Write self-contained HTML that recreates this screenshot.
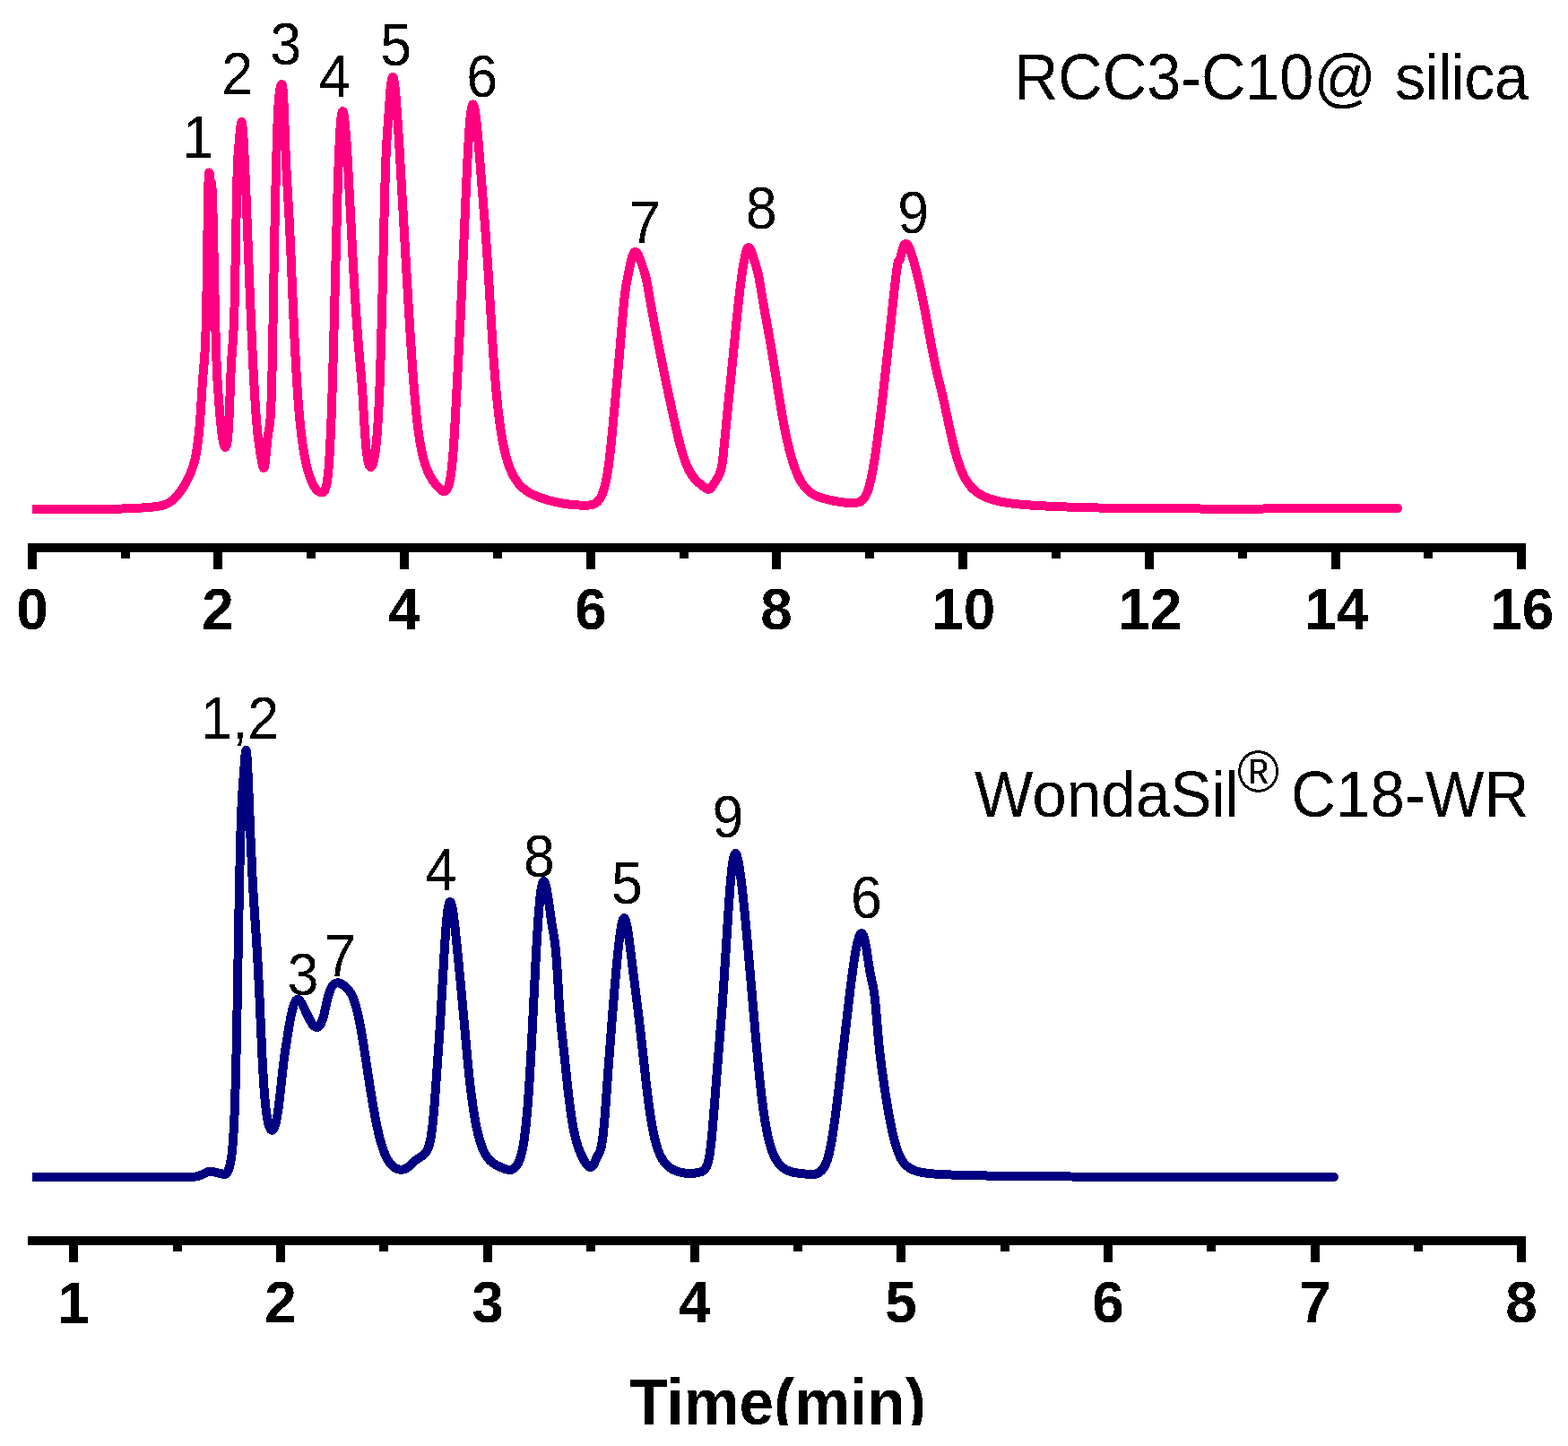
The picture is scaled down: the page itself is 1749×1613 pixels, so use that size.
<!DOCTYPE html>
<html lang="en"><head><meta charset="utf-8"><title>Chromatograms: RCC3-C10@ silica vs WondaSil C18-WR</title>
<style>
html,body{margin:0;padding:0;background:#fff;}
body{width:1749px;height:1613px;overflow:hidden;}
svg{display:block;}
text{font-family:"Liberation Sans",Arial,Helvetica,sans-serif;fill:#000;}
.tick{font-weight:bold;font-size:64px;text-anchor:middle;}
.pk{font-size:64px;text-anchor:middle;}
.ttl{font-weight:bold;font-size:70px;text-anchor:middle;}
.curve{fill:none;stroke-width:10;stroke-linejoin:round;stroke-linecap:butt;shape-rendering:crispEdges;}
</style></head><body>
<svg xmlns="http://www.w3.org/2000/svg" width="1749" height="1613" viewBox="0 0 1749 1613">
<rect width="1749" height="1613" fill="#fff"/>
<defs><clipPath id="cb"><rect x="0" y="0" width="1749" height="1590"/></clipPath><filter id="hard" x="0" y="0" width="100%" height="100%" filterUnits="userSpaceOnUse" color-interpolation-filters="sRGB"><feComponentTransfer><feFuncA type="discrete" tableValues="0 1"/></feComponentTransfer></filter></defs>
<g id="top-chart">
<path class="curve" stroke="#ff0080" d="M36.00,567.91 45.75,568.04 56.50,568.07 101.50,567.90 130.00,568.11 140.00,567.08 146.25,566.98 152.25,566.79 157.75,566.53 163.00,566.18 171.50,565.40 174.50,565.02 177.25,564.58 179.75,564.07 182.00,563.48 184.25,562.73 186.25,561.91 188.25,560.88 190.00,559.79 191.75,558.51 193.50,557.03 195.25,555.35 197.25,553.18 199.25,550.75 201.25,548.10 203.25,545.23 205.00,542.51 206.75,539.57 208.50,536.38 210.75,531.82 212.75,527.25 214.25,523.38 215.75,518.87 217.00,514.34 218.00,510.01 219.00,504.85 220.00,498.61 220.75,493.04 221.50,486.61 222.25,479.11 222.75,473.37 223.75,459.75 226.00,424.63 226.50,418.22 228.00,400.96 228.50,393.48 229.00,383.63 229.50,370.17 229.75,361.60 230.25,339.43 230.50,325.35 232.00,224.32 232.50,203.42 232.75,197.39 233.00,193.89 233.25,192.50 233.50,192.76 233.75,194.16 234.50,200.36 234.75,201.59 235.00,202.30 235.50,203.23 235.75,203.97 236.00,205.25 236.25,207.31 236.50,210.41 237.00,220.60 237.75,246.67 239.75,339.86 240.50,370.76 241.00,388.26 241.50,403.00 242.00,414.90 242.50,424.28 243.75,442.58 245.25,461.68 246.50,475.08 247.50,483.76 248.00,487.38 248.75,491.89 249.25,494.29 249.75,496.21 250.25,497.62 250.50,498.14 250.75,498.53 251.00,498.78 251.25,498.90 251.50,498.87 251.75,498.70 252.00,498.38 252.50,497.22 253.00,495.29 253.50,492.45 253.75,490.64 254.50,483.24 255.00,476.28 255.75,461.68 257.25,421.93 257.75,410.81 258.50,397.88 260.00,377.82 260.75,364.47 261.25,351.50 261.50,343.21 262.00,323.02 264.00,218.16 264.50,197.68 265.00,183.03 265.25,177.56 265.75,169.41 267.75,146.87 268.25,141.96 268.75,138.23 269.00,136.97 269.25,136.21 269.50,136.00 269.75,136.40 270.00,137.40 270.25,138.96 270.50,141.04 271.00,146.63 271.75,158.03 272.75,177.25 274.50,217.40 278.50,320.44 280.50,368.88 281.75,396.29 282.75,416.36 283.75,434.67 284.75,450.99 285.75,465.15 286.75,477.13 287.75,486.99 288.75,494.91 290.25,504.48 292.00,514.87 292.75,518.74 293.25,520.63 293.50,521.31 293.75,521.77 294.00,522.00 294.25,521.97 294.50,521.65 294.75,521.02 295.00,520.09 295.25,518.88 295.75,515.67 296.50,509.20 298.00,493.40 298.50,488.84 299.25,483.62 300.50,476.26 301.00,472.44 301.50,467.23 301.75,463.87 302.25,455.03 302.75,442.29 303.00,434.17 303.50,414.39 304.25,376.68 305.75,290.95 306.75,240.48 308.00,186.33 309.00,152.19 309.50,138.50 310.00,127.04 310.50,117.72 311.25,107.38 311.75,102.60 312.00,100.76 312.50,97.97 312.75,96.96 313.25,95.51 313.75,94.56 314.00,94.21 314.25,94.00 314.50,94.03 314.75,94.39 315.00,95.18 315.25,96.50 315.75,101.04 316.25,108.68 317.00,126.10 318.50,167.47 319.25,184.57 320.00,198.99 322.00,232.99 323.00,251.59 324.25,278.68 327.00,343.96 328.25,372.07 329.75,402.33 331.25,428.05 332.25,442.64 333.50,458.40 334.50,469.30 335.75,481.14 337.00,491.27 338.50,501.57 340.00,510.18 340.75,513.96 341.75,518.51 343.25,524.44 345.00,530.23 346.75,535.02 347.75,537.39 348.75,539.52 349.75,541.42 350.75,543.11 351.75,544.58 352.75,545.85 353.75,546.92 354.75,547.80 355.75,548.49 356.75,548.99 357.75,549.29 358.75,549.40 359.50,549.33 360.25,549.08 361.00,548.58 361.50,548.06 362.25,546.93 362.75,545.88 363.25,544.54 363.75,542.85 364.50,539.42 365.25,534.68 366.00,528.35 366.75,520.10 367.25,513.34 368.25,496.35 369.25,474.17 370.25,446.77 371.00,423.22 372.00,388.27 376.00,233.56 377.00,200.61 378.00,173.05 379.00,151.60 379.50,143.26 380.00,136.49 380.50,131.26 381.00,127.51 381.50,125.15 381.75,124.46 382.00,124.08 382.25,124.00 382.50,124.20 382.75,124.66 383.25,126.35 383.75,129.03 384.25,132.63 384.75,137.10 385.25,142.38 386.50,158.64 387.50,174.23 388.50,191.51 393.75,291.18 395.25,317.77 396.50,338.26 398.00,360.65 399.50,380.63 400.75,395.48 402.75,417.12 403.75,429.65 404.50,440.80 406.50,474.48 407.75,492.33 408.50,500.72 409.25,507.24 410.00,512.14 410.75,515.74 411.50,518.29 412.00,519.49 412.50,520.32 413.00,520.82 413.50,521.00 414.00,520.88 414.50,520.45 415.00,519.73 415.25,519.26 415.75,518.07 416.50,515.68 417.00,513.66 418.00,508.43 419.00,501.37 420.00,492.07 420.75,483.28 421.50,472.60 422.25,459.63 423.00,443.92 423.75,425.10 425.00,386.39 426.25,338.89 429.00,221.97 429.75,195.73 430.50,175.32 431.00,164.62 431.75,151.88 433.25,131.59 434.75,109.20 435.25,102.59 435.75,97.10 436.50,90.96 436.75,89.46 437.25,87.29 437.50,86.60 437.75,86.17 438.00,86.00 438.25,86.08 438.50,86.40 438.75,86.97 439.00,87.76 439.50,90.03 440.25,94.99 440.75,99.27 441.50,106.95 442.75,122.64 444.00,141.05 445.50,165.37 454.25,317.56 456.25,350.95 458.25,382.53 460.50,415.30 462.25,438.07 464.00,457.69 464.75,465.08 465.75,473.96 466.75,481.79 467.75,488.68 469.00,496.17 470.25,502.62 471.50,508.20 472.75,513.05 474.25,518.05 475.75,522.33 477.50,526.58 479.25,530.17 481.25,533.68 483.25,536.70 484.75,538.72 486.25,540.58 488.00,542.60 489.75,544.50 491.00,545.76 492.00,546.64 493.00,547.35 493.75,547.75 494.50,548.00 495.00,548.09 495.50,548.09 496.00,548.02 496.50,547.84 497.00,547.57 497.50,547.19 498.00,546.67 498.75,545.63 499.50,544.20 500.25,542.28 501.00,539.75 501.75,536.44 502.25,533.76 503.25,527.05 504.00,520.71 504.50,515.79 505.50,504.12 506.75,485.97 508.00,464.23 513.50,357.12 515.75,308.25 520.25,203.49 521.25,182.33 522.25,163.31 523.50,143.63 524.25,134.37 524.75,129.28 525.25,125.07 526.00,120.36 526.25,119.21 526.75,117.53 527.00,116.99 527.25,116.65 527.50,116.50 527.75,116.54 528.00,116.76 528.25,117.17 528.75,118.49 529.50,121.70 530.25,126.24 531.00,131.96 531.75,138.69 532.50,146.28 533.50,157.46 534.75,172.64 540.75,248.43 542.75,275.24 544.75,305.35 549.25,380.00 550.50,398.76 551.75,415.73 553.50,436.45 555.25,453.99 557.00,468.73 558.00,476.04 559.00,482.63 560.25,489.99 561.75,497.70 563.25,504.37 565.00,511.06 566.75,516.77 568.50,521.66 570.50,526.44 572.50,530.50 573.50,532.30 574.75,534.37 577.00,537.63 578.25,539.23 579.75,540.97 581.00,542.30 582.50,543.75 584.00,545.07 585.50,546.27 587.25,547.54 589.00,548.70 590.75,549.75 592.75,550.84 596.75,552.75 599.50,553.89 602.75,555.10 606.25,556.30 610.00,557.46 613.50,558.45 617.25,559.41 621.00,560.26 624.75,561.02 628.50,561.68 632.50,562.28 636.25,562.75 640.00,563.12 643.75,563.40 647.50,563.58 651.00,563.65 654.50,563.63 658.00,563.43 659.25,563.25 660.50,562.99 661.75,562.61 662.75,562.21 663.75,561.69 664.75,561.05 665.75,560.26 666.75,559.31 667.75,558.17 668.50,557.18 669.50,555.65 670.25,554.33 671.00,552.83 671.75,551.14 673.00,547.80 674.25,543.70 675.50,538.66 676.50,533.82 677.50,528.16 678.50,521.62 679.50,514.15 680.50,505.75 681.50,496.49 682.75,483.90 689.25,414.67 690.75,397.87 694.00,359.20 695.25,345.14 696.50,332.75 697.50,324.59 698.50,317.93 699.50,312.39 703.25,294.00 704.25,289.46 705.25,285.88 705.75,284.48 706.25,283.32 706.75,282.40 707.25,281.70 707.75,281.23 708.00,281.07 708.50,280.91 709.00,280.94 709.50,281.15 710.00,281.53 710.50,282.07 711.00,282.76 711.75,284.03 713.00,286.72 714.00,289.26 715.00,292.04 718.25,301.74 719.50,305.90 720.50,309.84 721.25,313.29 722.25,318.46 727.25,346.98 731.75,370.95 737.50,399.89 744.50,433.82 750.50,461.84 755.25,482.83 757.00,490.05 758.75,496.82 760.50,503.07 762.25,508.75 763.75,513.17 765.25,517.16 766.75,520.74 768.50,524.40 770.00,527.12 771.75,529.89 773.50,532.29 775.50,534.69 776.75,536.03 778.25,537.50 781.25,540.13 785.00,542.98 787.25,544.53 788.50,545.29 789.25,545.61 789.75,545.75 790.50,545.79 791.00,545.70 791.50,545.51 792.25,545.03 792.75,544.60 793.50,543.81 794.50,542.51 795.75,540.58 798.25,536.33 800.75,532.30 802.25,529.47 803.25,527.00 804.00,524.57 804.75,521.43 805.50,517.30 806.25,511.81 807.00,504.89 811.25,461.11 815.50,419.19 821.75,356.16 823.75,337.24 825.75,319.87 827.00,310.05 828.25,301.18 829.50,293.36 830.75,286.78 831.50,283.50 832.00,281.62 832.50,279.99 833.00,278.62 833.50,277.53 834.00,276.73 834.50,276.21 835.00,276.00 835.25,276.01 835.75,276.25 836.00,276.49 836.50,277.16 837.25,278.60 838.25,281.15 843.50,297.32 844.75,301.83 846.00,307.17 847.50,314.97 852.00,341.76 857.75,373.66 860.00,386.50 862.50,401.57 867.75,434.93 870.25,450.36 872.75,464.88 875.00,476.95 876.75,485.60 878.50,493.59 880.25,500.90 882.00,507.55 883.75,513.57 885.75,519.71 887.50,524.49 889.50,529.31 891.75,534.00 893.00,536.31 894.25,538.41 895.50,540.33 896.75,542.08 898.00,543.67 899.25,545.11 900.50,546.41 902.00,547.81 903.25,548.84 904.75,549.95 906.25,550.94 908.00,551.95 909.75,552.84 911.75,553.74 914.50,554.79 917.50,555.75 920.75,556.64 924.75,557.60 929.50,558.62 934.00,559.46 938.25,560.12 942.25,560.61 945.75,560.90 949.00,561.06 952.00,561.09 954.25,560.96 956.00,560.71 957.75,560.25 959.25,559.64 960.75,558.77 962.00,557.80 963.00,556.81 964.00,555.58 964.75,554.48 965.75,552.73 966.50,551.18 967.25,549.43 968.00,547.44 968.75,545.20 969.50,542.70 971.00,536.84 972.50,529.82 974.25,520.27 976.25,507.88 978.25,494.03 980.50,476.96 982.75,458.60 985.25,437.08 988.25,410.20 997.25,326.49 999.25,309.21 1000.75,297.44 1001.25,294.38 1001.75,292.30 1002.00,291.68 1002.25,291.26 1003.25,290.28 1003.50,289.87 1004.00,288.58 1004.50,286.80 1006.25,279.46 1006.75,277.71 1007.50,275.54 1008.25,273.90 1009.00,272.76 1009.75,272.11 1010.00,271.99 1010.50,271.90 1011.00,272.00 1011.75,272.47 1012.25,273.00 1013.00,274.06 1013.50,274.95 1014.25,276.51 1015.75,280.35 1017.50,285.73 1019.75,293.46 1021.75,300.94 1023.75,309.01 1025.25,315.43 1027.00,323.31 1030.25,339.02 1033.00,353.29 1039.75,389.76 1041.75,399.93 1043.75,409.47 1046.00,419.32 1050.50,437.71 1052.50,446.24 1054.50,455.31 1059.25,477.63 1062.00,489.87 1064.75,501.02 1066.25,506.55 1067.50,510.85 1068.75,514.86 1070.25,519.30 1071.50,522.69 1073.00,526.39 1074.25,529.20 1075.75,532.24 1077.25,534.95 1078.75,537.37 1080.50,539.87 1082.25,542.08 1084.00,544.04 1086.00,546.01 1088.00,547.75 1090.25,549.45 1092.50,550.95 1095.00,552.40 1098.00,553.90 1101.50,555.39 1105.25,556.73 1109.25,557.93 1113.50,559.00 1118.00,559.94 1123.00,560.81 1128.25,561.56 1133.75,562.20 1140.00,562.80 1147.00,563.35 1155.25,563.88 1165.25,564.45 1176.00,564.97 1198.75,565.83 1223.00,566.47 1250.25,566.93 1284.25,567.26 1324.50,567.48 1361.50,567.56 1403.00,567.53 1559.00,567.09"/>
<circle cx="1559.00" cy="567.09" r="5.0" fill="#ff0080"/>
<g fill="#000" shape-rendering="crispEdges">
<rect x="31.00" y="606.00" width="1671.00" height="10"/>
<rect x="31.00" y="606.00" width="10" height="29.00"/>
<rect x="238.00" y="606.00" width="10" height="29.00"/>
<rect x="446.00" y="606.00" width="10" height="29.00"/>
<rect x="654.00" y="606.00" width="10" height="29.00"/>
<rect x="861.00" y="606.00" width="10" height="29.00"/>
<rect x="1069.00" y="606.00" width="10" height="29.00"/>
<rect x="1277.00" y="606.00" width="10" height="29.00"/>
<rect x="1485.00" y="606.00" width="10" height="29.00"/>
<rect x="1692.00" y="606.00" width="10" height="29.00"/>
<rect x="135.00" y="606.00" width="10" height="17.00"/>
<rect x="342.00" y="606.00" width="10" height="17.00"/>
<rect x="550.00" y="606.00" width="10" height="17.00"/>
<rect x="758.00" y="606.00" width="10" height="17.00"/>
<rect x="965.00" y="606.00" width="10" height="17.00"/>
<rect x="1173.00" y="606.00" width="10" height="17.00"/>
<rect x="1381.00" y="606.00" width="10" height="17.00"/>
<rect x="1588.00" y="606.00" width="10" height="17.00"/>
</g>
<g filter="url(#hard)">
<text class="tick" transform="translate(36.00 702) scale(1 1.012)">0</text>
<text class="tick" transform="translate(243.00 702) scale(1 1.012)">2</text>
<text class="tick" transform="translate(451.00 702) scale(1 1.012)">4</text>
<text class="tick" transform="translate(659.00 702) scale(1 1.012)">6</text>
<text class="tick" transform="translate(866.00 702) scale(1 1.012)">8</text>
<text class="tick" transform="translate(1074.80 702) scale(1 1.012)">10</text>
<text class="tick" transform="translate(1282.80 702) scale(1 1.012)">12</text>
<text class="tick" transform="translate(1490.80 702) scale(1 1.012)">14</text>
<text class="tick" transform="translate(1697.80 702) scale(1 1.012)">16</text>
<text class="pk" transform="translate(221 176) scale(0.98 1.045)">1</text>
<text class="pk" transform="translate(264.8 105) scale(0.98 1.045)">2</text>
<text class="pk" transform="translate(318.6 72.4) scale(0.98 1.045)">3</text>
<text class="pk" transform="translate(373.3 107.5) scale(0.98 1.045)">4</text>
<text class="pk" transform="translate(441.7 73.0) scale(0.98 1.045)">5</text>
<text class="pk" transform="translate(537.7 108.3) scale(0.98 1.045)">6</text>
<text class="pk" transform="translate(719.5 271) scale(0.98 1.045)">7</text>
<text class="pk" transform="translate(849.3 254.5) scale(0.98 1.045)">8</text>
<text class="pk" transform="translate(1018.8 259.5) scale(0.98 1.045)">9</text>
<text transform="translate(0 111) scale(1 1.045)" font-size="68.4"><tspan x="1131">RCC3-C10@ </tspan><tspan x="1556" letter-spacing="-0.6">silica</tspan></text>
</g>
</g>
<g id="bottom-chart">
<path class="curve" stroke="#000080" d="M36.00,1313.27 139.50,1313.27 181.25,1313.20 192.75,1313.25 205.00,1313.42 209.50,1313.37 212.75,1313.19 215.75,1312.87 218.50,1312.42 221.00,1311.83 223.00,1311.23 225.00,1310.48 230.25,1307.99 231.75,1307.35 233.25,1306.86 234.75,1306.58 236.00,1306.57 237.00,1306.72 240.75,1307.83 246.00,1308.98 249.00,1309.85 249.75,1309.98 250.50,1309.98 251.00,1309.87 251.50,1309.66 252.00,1309.33 252.50,1308.89 253.50,1307.65 254.25,1306.36 255.00,1304.70 255.50,1303.35 256.25,1300.87 256.75,1298.83 257.25,1296.42 257.75,1293.57 258.25,1290.17 258.75,1286.11 259.50,1278.47 260.25,1268.45 261.00,1255.28 261.50,1244.27 262.00,1231.12 262.50,1215.60 263.50,1176.70 264.50,1127.42 266.25,1027.89 267.00,988.71 267.75,955.02 268.50,927.59 269.00,912.76 269.50,900.47 270.00,890.35 270.50,881.97 273.25,845.00 273.75,839.99 274.00,838.29 274.25,837.25 274.50,837.00 274.75,837.61 275.00,839.04 275.25,841.25 275.75,847.70 276.25,856.44 277.25,878.66 279.50,934.62 281.25,972.50 282.00,986.80 283.00,1004.08 286.25,1052.20 287.75,1077.38 289.25,1107.52 292.25,1174.50 293.25,1193.65 294.25,1210.00 295.00,1220.35 296.00,1231.64 297.00,1240.35 298.00,1247.02 299.00,1252.06 299.50,1254.06 300.25,1256.50 300.75,1257.79 301.50,1259.25 302.25,1260.20 302.50,1260.40 303.00,1260.65 303.50,1260.69 304.00,1260.53 304.75,1259.89 305.50,1258.78 306.25,1257.16 307.00,1255.01 307.75,1252.27 308.25,1250.09 309.00,1246.26 310.25,1238.43 311.50,1228.90 312.75,1217.98 315.25,1194.50 316.50,1183.99 317.75,1174.93 319.75,1161.72 322.50,1144.67 323.75,1137.69 324.75,1132.59 325.75,1128.01 326.75,1124.04 327.75,1120.76 328.75,1118.22 329.25,1117.23 330.00,1116.08 330.50,1115.52 331.25,1114.99 332.00,1114.80 332.75,1114.92 333.50,1115.32 334.25,1115.97 335.00,1116.85 335.75,1117.91 337.25,1120.49 339.00,1123.98 343.00,1132.60 344.75,1136.20 346.50,1139.45 348.00,1141.85 349.00,1143.19 349.75,1144.05 350.75,1144.98 351.50,1145.49 352.25,1145.83 353.00,1145.99 353.75,1145.96 354.50,1145.72 355.25,1145.27 356.00,1144.60 356.75,1143.68 357.25,1142.94 358.00,1141.59 358.50,1140.54 359.75,1137.35 360.75,1134.14 361.75,1130.31 364.25,1118.82 365.75,1112.69 366.50,1110.06 367.50,1106.96 368.25,1104.95 369.25,1102.66 370.00,1101.22 371.00,1099.64 372.00,1098.43 373.00,1097.54 374.00,1096.93 375.25,1096.50 376.50,1096.36 377.75,1096.45 379.00,1096.76 380.50,1097.37 382.00,1098.22 383.50,1099.28 385.25,1100.74 387.25,1102.64 388.75,1104.30 390.00,1105.95 391.00,1107.49 392.00,1109.26 393.00,1111.28 394.00,1113.60 395.00,1116.22 395.75,1118.42 397.50,1124.31 399.00,1130.27 400.25,1135.89 401.75,1143.43 403.25,1151.78 406.00,1168.65 411.75,1206.32 414.25,1222.09 417.00,1238.18 419.50,1251.36 421.00,1258.53 422.50,1265.11 423.75,1270.12 425.25,1275.54 426.75,1280.34 428.25,1284.54 429.75,1288.20 431.25,1291.36 432.25,1293.21 433.25,1294.88 434.25,1296.38 435.25,1297.72 436.25,1298.92 437.25,1299.98 438.25,1300.92 439.50,1301.93 440.50,1302.62 441.75,1303.34 443.00,1303.90 444.25,1304.32 445.50,1304.61 446.75,1304.76 448.00,1304.78 449.00,1304.70 450.50,1304.41 452.00,1303.91 453.25,1303.29 454.75,1302.32 456.75,1300.69 461.00,1296.62 463.00,1294.87 466.00,1292.61 470.75,1289.51 472.00,1288.62 473.50,1287.32 474.75,1285.88 475.50,1284.81 476.25,1283.52 477.00,1281.99 477.50,1280.79 478.25,1278.69 478.75,1277.05 479.75,1273.05 480.75,1267.83 481.50,1262.91 482.50,1254.90 483.25,1247.75 484.25,1236.71 485.25,1224.13 489.75,1160.89 491.75,1129.12 495.75,1060.23 496.75,1044.83 497.50,1034.62 498.25,1025.89 498.75,1020.95 499.25,1016.72 499.75,1013.20 500.25,1010.40 500.50,1009.26 501.00,1007.51 501.50,1006.43 501.75,1006.13 502.00,1006.00 502.25,1006.02 502.50,1006.20 502.75,1006.52 503.00,1006.99 503.50,1008.33 504.00,1010.20 504.75,1013.88 505.50,1018.51 506.25,1023.92 508.00,1038.86 510.75,1065.57 513.50,1093.92 521.75,1184.42 523.50,1201.77 525.00,1215.07 527.00,1230.56 528.00,1237.40 529.00,1243.68 530.00,1249.44 531.00,1254.71 532.00,1259.51 533.25,1264.90 534.75,1270.58 536.25,1275.48 538.00,1280.34 539.75,1284.40 541.50,1287.78 543.25,1290.57 544.25,1291.94 545.25,1293.15 546.25,1294.24 547.50,1295.44 549.00,1296.70 550.50,1297.79 552.25,1298.90 554.25,1300.00 557.00,1301.31 560.75,1302.91 563.00,1303.78 565.00,1304.40 566.50,1304.71 567.75,1304.84 569.00,1304.84 570.25,1304.67 571.50,1304.32 572.50,1303.87 573.50,1303.26 574.50,1302.44 575.50,1301.38 576.50,1300.05 577.50,1298.41 578.50,1296.41 579.50,1293.99 580.25,1291.86 581.00,1289.42 581.75,1286.61 582.50,1283.39 583.25,1279.70 584.50,1272.32 585.75,1263.14 587.00,1251.84 588.25,1238.17 589.25,1225.36 590.25,1210.87 591.25,1194.74 593.25,1158.36 596.75,1088.06 598.00,1064.08 599.25,1042.39 600.50,1023.63 601.25,1013.98 602.00,1005.62 602.75,998.58 603.50,992.89 604.25,988.52 605.00,985.46 605.25,984.72 605.75,983.64 606.00,983.30 606.25,983.09 606.50,983.00 606.75,983.03 607.00,983.19 607.25,983.46 607.75,984.32 608.25,985.61 608.75,987.28 609.25,989.30 610.25,994.27 611.75,1003.57 615.25,1028.49 616.25,1034.80 618.00,1044.77 618.75,1049.83 619.25,1053.81 620.25,1063.82 621.00,1073.49 621.75,1085.17 623.75,1118.80 624.50,1129.34 625.25,1138.22 626.25,1148.31 629.25,1175.04 633.50,1215.27 635.25,1230.14 636.75,1241.39 638.25,1251.13 639.75,1259.46 641.25,1266.57 643.00,1273.53 644.75,1279.29 646.50,1284.05 647.50,1286.42 648.75,1289.13 651.50,1294.47 653.00,1297.04 654.25,1298.86 655.50,1300.31 656.50,1301.17 657.25,1301.63 657.75,1301.84 658.25,1301.96 658.75,1302.00 659.25,1301.94 659.75,1301.79 660.25,1301.52 660.75,1301.13 661.25,1300.60 661.75,1299.91 662.50,1298.55 663.25,1296.86 664.75,1293.06 665.50,1291.34 666.25,1289.88 668.25,1286.43 669.25,1284.27 670.00,1282.06 670.50,1280.15 671.00,1277.80 671.50,1275.00 672.25,1269.87 673.00,1263.58 674.25,1250.43 675.25,1237.68 678.75,1188.73 683.00,1133.83 686.00,1097.45 687.50,1080.65 688.75,1067.50 689.75,1057.75 690.75,1048.88 691.75,1041.09 692.75,1034.58 693.75,1029.52 694.50,1026.78 695.00,1025.49 695.50,1024.64 695.75,1024.39 696.00,1024.26 696.25,1024.25 696.50,1024.36 696.75,1024.58 697.00,1024.92 697.50,1025.92 698.25,1028.20 699.00,1031.30 699.75,1035.15 700.50,1039.62 702.25,1051.91 706.50,1086.25 710.25,1115.69 712.00,1129.93 715.00,1155.87 721.00,1210.24 722.75,1224.73 724.50,1237.82 726.50,1250.86 727.50,1256.60 728.50,1261.84 729.50,1266.60 730.50,1270.90 731.50,1274.77 732.75,1279.05 733.50,1281.34 734.50,1284.11 736.25,1288.26 737.25,1290.29 738.25,1292.12 739.25,1293.77 740.25,1295.26 741.25,1296.60 742.50,1298.11 743.75,1299.44 745.00,1300.62 746.25,1301.68 747.75,1302.79 749.25,1303.77 750.75,1304.62 752.50,1305.48 754.25,1306.22 756.25,1306.92 758.25,1307.50 760.25,1307.97 762.50,1308.37 764.75,1308.65 767.00,1308.82 769.25,1308.88 771.75,1308.82 774.25,1308.64 776.50,1308.35 778.75,1307.96 781.00,1307.44 782.50,1306.94 783.75,1306.32 784.75,1305.64 785.75,1304.73 786.50,1303.84 787.25,1302.75 788.00,1301.37 788.50,1300.27 789.25,1298.25 789.75,1296.60 790.75,1292.37 791.75,1286.68 792.75,1279.29 793.50,1272.56 794.50,1262.08 795.75,1247.28 800.00,1192.92 803.75,1146.60 805.25,1127.14 807.75,1090.79 812.50,1016.07 813.75,998.12 814.75,985.27 815.50,976.81 816.25,969.54 816.75,965.41 817.50,960.28 818.00,957.56 818.75,954.52 819.00,953.78 819.50,952.68 819.75,952.33 820.00,952.10 820.25,952.00 820.50,952.02 820.75,952.15 821.00,952.40 821.50,953.23 822.00,954.48 822.75,957.09 823.75,961.79 824.75,967.69 826.00,976.39 827.25,986.26 828.50,997.14 830.75,1018.89 833.25,1045.51 838.00,1099.47 843.25,1160.29 846.00,1190.17 847.75,1207.33 849.50,1222.76 851.25,1236.39 853.00,1248.24 854.00,1254.25 855.25,1261.02 856.25,1265.89 857.50,1271.34 858.75,1276.14 860.00,1280.36 861.25,1284.05 862.50,1287.28 863.75,1290.08 865.25,1292.97 866.75,1295.42 868.50,1297.80 870.25,1299.79 872.25,1301.67 874.50,1303.38 876.75,1304.75 879.25,1305.96 882.00,1306.97 884.75,1307.71 887.75,1308.27 896.25,1309.28 901.25,1309.95 903.50,1310.16 905.25,1310.22 906.75,1310.16 908.25,1309.99 909.50,1309.74 910.75,1309.36 911.75,1308.96 912.75,1308.46 913.75,1307.85 914.75,1307.13 915.75,1306.28 916.75,1305.27 917.50,1304.40 919.00,1302.31 919.75,1301.06 920.50,1299.63 921.75,1296.80 923.00,1293.29 924.00,1289.93 925.00,1286.01 926.00,1281.51 927.00,1276.40 928.00,1270.70 929.25,1262.84 931.50,1247.07 933.50,1231.58 935.75,1212.96 944.00,1141.31 948.00,1107.22 950.50,1087.34 952.50,1073.03 953.75,1065.08 954.75,1059.37 956.00,1053.15 957.00,1049.00 958.00,1045.66 958.50,1044.31 959.00,1043.20 959.50,1042.34 960.00,1041.72 960.50,1041.35 961.00,1041.25 961.50,1041.42 962.00,1041.86 962.50,1042.58 963.00,1043.58 963.50,1044.87 964.00,1046.44 965.00,1050.45 965.75,1054.20 966.50,1058.55 969.50,1078.36 970.75,1085.97 971.75,1091.09 973.75,1099.92 974.50,1103.87 975.00,1106.98 976.00,1114.75 976.75,1122.19 979.25,1152.49 980.25,1163.38 981.50,1175.19 983.00,1187.51 984.25,1196.79 985.75,1207.26 987.50,1218.94 989.00,1228.46 990.50,1237.44 991.75,1244.49 993.25,1252.38 994.50,1258.49 995.75,1264.16 997.00,1269.40 998.25,1274.19 999.25,1277.69 1000.25,1280.90 1001.50,1284.50 1002.75,1287.67 1004.00,1290.44 1005.25,1292.83 1006.50,1294.89 1008.00,1296.99 1009.50,1298.75 1011.00,1300.23 1012.75,1301.69 1014.75,1303.07 1016.75,1304.19 1018.75,1305.12 1021.00,1305.98 1023.25,1306.68 1025.75,1307.32 1028.50,1307.88 1031.75,1308.41 1035.25,1308.88 1039.25,1309.30 1043.25,1309.62 1048.00,1309.92 1060.75,1310.49 1077.00,1311.01 1095.50,1311.43 1124.00,1311.86 1157.50,1312.23 1193.50,1312.50 1235.75,1312.71 1342.00,1312.97 1488.00,1312.99"/>
<circle cx="1488.00" cy="1312.99" r="5.0" fill="#000080"/>
<g fill="#000" shape-rendering="crispEdges">
<rect x="31.00" y="1379.00" width="1671.00" height="10"/>
<rect x="77.00" y="1379.00" width="10" height="29.00"/>
<rect x="308.00" y="1379.00" width="10" height="29.00"/>
<rect x="539.00" y="1379.00" width="10" height="29.00"/>
<rect x="770.00" y="1379.00" width="10" height="29.00"/>
<rect x="1000.00" y="1379.00" width="10" height="29.00"/>
<rect x="1231.00" y="1379.00" width="10" height="29.00"/>
<rect x="1462.00" y="1379.00" width="10" height="29.00"/>
<rect x="1692.00" y="1379.00" width="10" height="29.00"/>
<rect x="193.00" y="1379.00" width="10" height="17.00"/>
<rect x="423.00" y="1379.00" width="10" height="17.00"/>
<rect x="654.00" y="1379.00" width="10" height="17.00"/>
<rect x="885.00" y="1379.00" width="10" height="17.00"/>
<rect x="1116.00" y="1379.00" width="10" height="17.00"/>
<rect x="1346.00" y="1379.00" width="10" height="17.00"/>
<rect x="1577.00" y="1379.00" width="10" height="17.00"/>
</g>
<g filter="url(#hard)">
<text class="tick" transform="translate(82.00 1475.5) scale(1 1.012)">1</text>
<text class="tick" transform="translate(313.00 1475.5) scale(1 1.012)">2</text>
<text class="tick" transform="translate(544.00 1475.5) scale(1 1.012)">3</text>
<text class="tick" transform="translate(775.00 1475.5) scale(1 1.012)">4</text>
<text class="tick" transform="translate(1005.00 1475.5) scale(1 1.012)">5</text>
<text class="tick" transform="translate(1236.00 1475.5) scale(1 1.012)">6</text>
<text class="tick" transform="translate(1467.00 1475.5) scale(1 1.012)">7</text>
<text class="tick" transform="translate(1697.00 1475.5) scale(1 1.012)">8</text>
<text class="pk" transform="translate(267.5 823.7) scale(0.98 1.045)">1,2</text>
<text class="pk" transform="translate(338 1110.0) scale(0.98 1.045)">3</text>
<text class="pk" transform="translate(379.8 1088.7) scale(0.98 1.045)">7</text>
<text class="pk" transform="translate(492 993.2) scale(0.98 1.045)">4</text>
<text class="pk" transform="translate(601.5 978.2) scale(0.98 1.045)">8</text>
<text class="pk" transform="translate(699.5 1008.2) scale(0.98 1.045)">5</text>
<text class="pk" transform="translate(812 933.9) scale(0.98 1.045)">9</text>
<text class="pk" transform="translate(966.5 1023.9) scale(0.98 1.045)">6</text>
<text transform="translate(0 911) scale(1 1.045)" font-size="69.3"><tspan x="1087">WondaSil</tspan><tspan x="1380" dy="-26.8" font-size="64">® </tspan><tspan x="1439.9" dy="26.8">C18-WR</tspan></text>
<g clip-path="url(#cb)"><text class="ttl" transform="translate(867.6 1589.0) scale(0.992 1.02)">Time(min)</text></g>
</g>
</g>
</svg></body></html>
